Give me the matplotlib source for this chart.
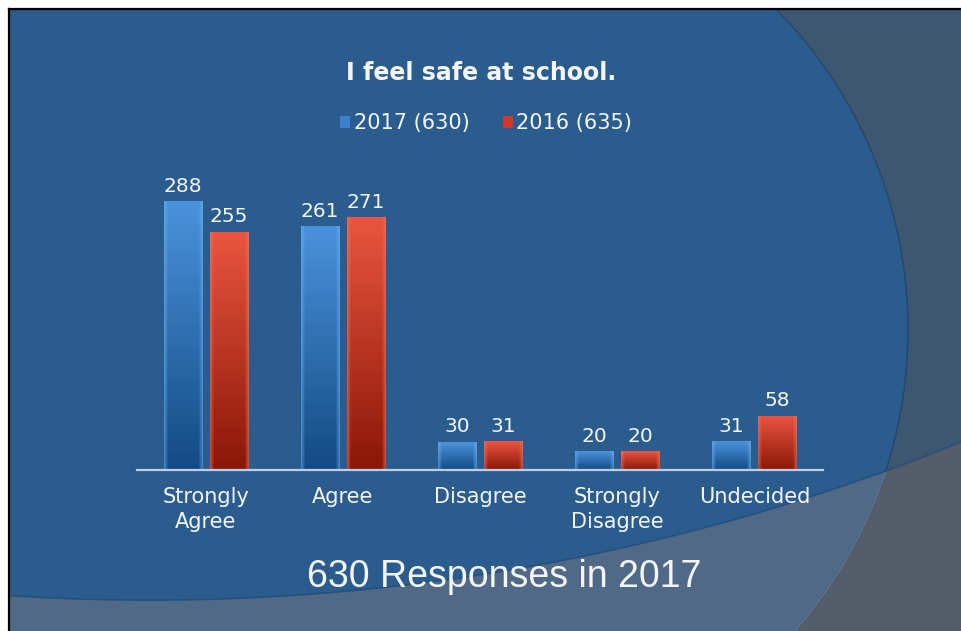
import numpy as np
import matplotlib.pyplot as plt
from matplotlib.colors import to_rgb
from matplotlib.patches import Polygon, Rectangle, Patch

categories = ["Strongly\nAgree", "Agree", "Disagree", "Strongly\nDisagree", "Undecided"]
counts_2017 = [288, 261, 30, 20, 31]
counts_2016 = [255, 271, 31, 20, 58]
series_labels = ["2017 (630)", "2016 (635)"]

W, H = 961, 631
BLUE_BG = "#2b5c8e"
GREY_BG = "#3e5771"
BAND_IN = "#4f6986"
BAND_OUT = "#545d69"
TXT = "#f3f5f8"

fig = plt.figure(figsize=(W / 100, H / 100), dpi=100, facecolor="white")

# slide background, drawn in pixel coordinates
bg = fig.add_axes([0, 0, 1, 1], zorder=0)
bg.set_xlim(0, W)
bg.set_ylim(H, 0)
bg.axis("off")

frame = Rectangle((10, 10), W - 10, H - 10, facecolor=GREY_BG, edgecolor="none")
bg.add_patch(frame)

# blue panel: open to the left, bounded on the right by a large arc
cx1, cy1, r1 = 452, 330, 456
th = np.linspace(-np.pi / 2, np.pi / 2, 300)
arc_x = cx1 + r1 * np.cos(th)
arc_y = cy1 + r1 * np.sin(th)
blue_pts = np.vstack([np.column_stack([arc_x, arc_y]), [[0, cy1 + r1], [0, cy1 - r1]]])


def blue_panel(color):
    p = Polygon(blue_pts, closed=True, facecolor=color, edgecolor="none")
    bg.add_patch(p)
    return p


panel = blue_panel(BLUE_BG)
panel.set_clip_path(frame)

# lower band: everything below a very large, shallow arc
cx2, r2 = 150, 2160
cy2 = 601 - r2
xs = np.linspace(10, W, 300)
ys = cy2 + np.sqrt(r2 ** 2 - (xs - cx2) ** 2)
band_pts = np.vstack([np.column_stack([xs, ys]), [[W, H], [10, H]]])
band = Polygon(band_pts, closed=True, facecolor=BAND_OUT, edgecolor="none")
bg.add_patch(band)
panel_low = blue_panel(BAND_IN)
panel_low.set_clip_path(band)

# arc outline: dark above the band, lighter inside it
hi = bg.plot(arc_x, arc_y, color="#25496e", lw=1.1)[0]
hi.set_clip_path(frame)
lo = bg.plot(arc_x, arc_y, color="#617a94", lw=1.0)[0]
lo.set_clip_path(band)
bg.plot(xs, ys - 1, color="#234c78", lw=1.1, alpha=0.7)

# black frame line on top and left
bg.plot([9, W], [9, 9], color="black", lw=1.6)
bg.plot([9, 9], [9, H], color="black", lw=1.6)

# chart
ax = fig.add_axes([137 / W, 161 / H, 686 / W, 280 / H], zorder=2)
ax.set_facecolor("none")

x = np.arange(len(categories))
width = 0.277
off = 0.168
bars17 = ax.bar(x - off, counts_2017, width, color="#3a82cc", zorder=2)
bars16 = ax.bar(x + off, counts_2016, width, color="#d0392a", zorder=2)


def shade(bars, top, bottom, rim):
    top, bottom, rim = map(np.array, map(to_rgb, (top, bottom, rim)))
    t = np.linspace(0, 1, 120)[:, None, None]
    u = np.linspace(0, 1, 40)[None, :, None]
    grad = top * (1 - t) + bottom * t
    d = np.minimum(u, 1 - u)
    w = np.clip(1 - d / 0.1, 0, 1) * 0.6
    img = grad * (1 - w) + rim * w
    for b in bars:
        x0, y0 = b.get_x(), b.get_y()
        im = ax.imshow(img, extent=(x0, x0 + b.get_width(), y0, y0 + b.get_height()),
                       aspect="auto", origin="upper", zorder=3, interpolation="bilinear")
        im.set_clip_path(b)


shade(bars17, "#4a93dc", "#144a84", "#68aeee")
shade(bars16, "#ea5540", "#8a1707", "#f0705a")

ax.set_xlim(-0.5, 4.5)
ax.set_ylim(0, 300)

for s in ("left", "right", "top"):
    ax.spines[s].set_visible(False)
ax.spines["bottom"].set_color("#b7d1ea")
ax.spines["bottom"].set_linewidth(1.6)
ax.spines["bottom"].set_zorder(4)
ax.set_yticks([])
ax.set_xticks(x, categories)
ax.tick_params(axis="x", length=0, pad=12, labelsize=15, labelcolor=TXT)
for lab in ax.get_xticklabels():
    lab.set_linespacing(1.35)

ax.bar_label(bars17, padding=4, color=TXT, fontsize=14.5)
ax.bar_label(bars16, padding=4, color=TXT, fontsize=14.5)

fig.text(481 / W, 1 - 73 / H, "I feel safe at school.", ha="center", va="center",
         fontsize=17, fontweight="bold", color=TXT)

handles = [Patch(facecolor="#3a82cc"), Patch(facecolor="#d0392a")]
fig.legend(handles, series_labels, loc="center", bbox_to_anchor=(486 / W, 1 - 123 / H),
           ncol=2, frameon=False, fontsize=15, labelcolor=TXT,
           handlelength=0.5, handleheight=0.5, handletextpad=0.15, columnspacing=1.6)

fig.text(504 / W, 1 - 577 / H, "630 Responses in 2017", ha="center", va="center",
         fontsize=27, family="Liberation Sans", color=TXT)

fig.savefig("out.png", dpi=100)
